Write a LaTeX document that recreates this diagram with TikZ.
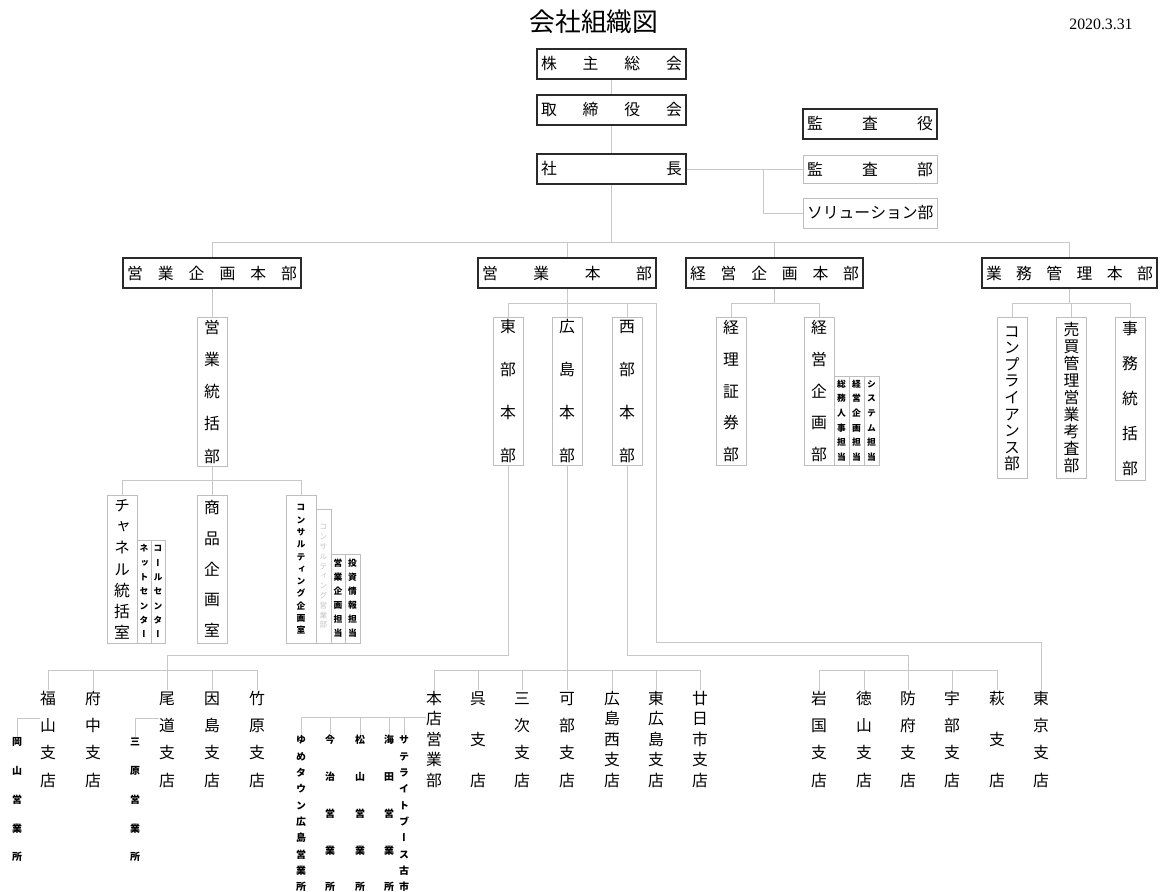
\documentclass[tikz,border=0pt]{standalone}
\usepackage{fontspec}
\setmainfont{Liberation Serif}
\newfontfamily\jp{Noto Sans CJK JP}
\newfontfamily\jpv[RawFeature=+vert]{Noto Sans CJK JP}
\newdimen\upx \upx=0.03cm
\definecolor{lc}{HTML}{C8C8C8}
\definecolor{lg}{HTML}{BEBEBE}
\definecolor{dk}{HTML}{2A2A2A}
\definecolor{faint}{HTML}{C4C4C4}
\ExplSyntaxOn
\NewDocumentCommand\vtext{m m}
 {
  \vbox
   {
    \baselineskip=#1\relax
    \lineskiplimit=-\maxdimen
    \lineskip=0pt
    \tl_map_inline:nn {#2}
     { \hbox~to~1em {\hss \vrule~height~.88em~depth~.12em~width~0pt ##1 \hss} }
   }
 }
\NewDocumentCommand\spread{m m}
 {
  \hbox~to~#1
   {
    \bool_set_false:N \l_tmpa_bool
    \tl_map_inline:nn {#2}
     { \bool_if:NT \l_tmpa_bool {\hfill} ##1 \bool_set_true:N \l_tmpa_bool }
   }
 }
\ExplSyntaxOff
\begin{document}
\begin{tikzpicture}[x=0.03cm, y=-0.03cm,
  ln/.style={draw=lc, line width=0.8pt},
  dbox/.style={draw=dk, line width=1.3pt, inner sep=0pt, font=\jp\fontsize{13.5}{13.5}\selectfont},
  gboxh/.style={draw=lg, line width=0.8pt, inner sep=0pt, font=\jp\fontsize{13.5}{13.5}\selectfont},
  gbox/.style={draw=lg, line width=0.8pt, inner sep=0pt, font=\jpv\fontsize{13.5}{13.5}\selectfont},
  sbox/.style={draw=lg, line width=0.8pt, inner sep=0pt, font=\jpv\bfseries\fontsize{7.5}{7.5}\selectfont},
  vt/.style={inner sep=0pt, font=\jpv\fontsize{13.5}{13.5}\selectfont},
  vs/.style={inner sep=0pt, font=\jpv\bfseries\fontsize{8.5}{8.5}\selectfont}]
\fill[white] (0,0) rectangle (1164,892);
\useasboundingbox (0,0) rectangle (1164,892);

% title and date
\node[font=\jp\fontsize{22}{22}\selectfont] (title) at (594,22) {会社組織図};
\node[font=\fontsize{13.5}{13.5}\selectfont] (date) at (1101,24) {2020.3.31};

% top
\node[dbox, minimum width=149\upx, minimum height=30\upx] (kabu) at (611.5,64) {\spread{141\upx}{株主総会}};
\node[dbox, minimum width=149\upx, minimum height=30\upx] (tori) at (611.5,110) {\spread{141\upx}{取締役会}};
\node[dbox, minimum width=149\upx, minimum height=30\upx] (shacho) at (611.5,169) {\spread{141\upx}{社長}};
\node[dbox, minimum width=134\upx, minimum height=30\upx] (kansayaku) at (870,124) {\spread{126\upx}{監査役}};
\node[gboxh, minimum width=134\upx, minimum height=28\upx] (kansabu) at (870,169) {\spread{126\upx}{監査部}};
\node[gboxh, minimum width=134\upx, minimum height=30\upx] (solution) at (870,213) {\spread{126\upx}{ソリューション部}};

% headquarters
\node[dbox, minimum width=178\upx, minimum height=30\upx] (eki) at (212,273) {\spread{170\upx}{営業企画本部}};
\node[dbox, minimum width=178\upx, minimum height=30\upx] (eig) at (567,273) {\spread{170\upx}{営業本部}};
\node[dbox, minimum width=177\upx, minimum height=30\upx] (kei) at (774.5,273) {\spread{169\upx}{経営企画本部}};
\node[dbox, minimum width=175\upx, minimum height=30\upx] (gyo) at (1069.5,273) {\spread{167\upx}{業務管理本部}};

% 営業企画本部
\node[gbox, minimum width=30\upx, minimum height=149\upx] (tokatsu) at (212,391.5) {\vtext{32.25\upx}{営業統括部}};
\node[gbox, minimum width=30\upx, minimum height=148\upx] (channel) at (122,569) {\vtext{21.2\upx}{チャネル統括室}};
\node[sbox, minimum width=14\upx, minimum height=103\upx] (net) at (144,591.5) {\vtext{14.3\upx}{ネットセンター}};
\node[sbox, minimum width=14\upx, minimum height=103\upx] (call) at (158,591.5) {\vtext{14.3\upx}{コールセンター}};
\node[gbox, minimum width=30\upx, minimum height=148\upx] (shohin) at (212,569) {\vtext{30.75\upx}{商品企画室}};
\node[sbox, minimum width=30\upx, minimum height=148\upx] (consul) at (301,569) {\vtext{12.3\upx}{コンサルティング企画室}};
\node[sbox, minimum width=15\upx, minimum height=134\upx, text=faint, font=\jpv\fontsize{6.5}{6.5}\selectfont] (consul2) at (323.5,576) {\vtext{9.8\upx}{コンサルティング営業部}};
\node[sbox, minimum width=14\upx, minimum height=89\upx] (eitan) at (338,598.5) {\vtext{14\upx}{営業企画担当}};
\node[sbox, minimum width=15\upx, minimum height=89\upx] (toshi) at (352.5,598.5) {\vtext{14\upx}{投資情報担当}};

% 営業本部
\node[gbox, minimum width=30\upx, minimum height=148\upx] (tobu) at (508,391) {\vtext{43\upx}{東部本部}};
\node[gbox, minimum width=30\upx, minimum height=148\upx] (hiro) at (567,391) {\vtext{43\upx}{広島本部}};
\node[gbox, minimum width=30\upx, minimum height=148\upx] (seibu) at (627,391) {\vtext{43\upx}{西部本部}};

% 経営企画本部
\node[gbox, minimum width=30\upx, minimum height=148\upx] (keiri) at (731,391) {\vtext{31.75\upx}{経理証券部}};
\node[gbox, minimum width=30\upx, minimum height=148\upx] (kikaku) at (819,391) {\vtext{31.75\upx}{経営企画部}};
\node[sbox, minimum width=15\upx, minimum height=89\upx] (somu) at (841.5,420.5) {\vtext{14.6\upx}{総務人事担当}};
\node[sbox, minimum width=15\upx, minimum height=89\upx] (keitan) at (856.5,420.5) {\vtext{14.6\upx}{経営企画担当}};
\node[sbox, minimum width=15\upx, minimum height=89\upx] (sys) at (871.5,420.5) {\vtext{14.6\upx}{システム担当}};

% 業務管理本部
\node[gbox, minimum width=30\upx, minimum height=161\upx] (comp) at (1012,397.5) {\vtext{16.6\upx}{コンプライアンス部}};
\node[gbox, minimum width=30\upx, minimum height=161\upx] (baibai) at (1071.5,397.5) {\vtext{16.9\upx}{売買管理営業考査部}};
\node[gbox, minimum width=30\upx, minimum height=163\upx] (jimu) at (1130,398.5) {\vtext{35\upx}{事務統括部}};

% 東部 branches
\node[vt] (fukuyama) at (48,739) {\vtext{27.33\upx}{福山支店}};
\node[vt] (fuchu) at (93,739) {\vtext{27.33\upx}{府中支店}};
\node[vt] (onomichi) at (167,739) {\vtext{27.33\upx}{尾道支店}};
\node[vt] (innoshima) at (212,739) {\vtext{27.33\upx}{因島支店}};
\node[vt] (takehara) at (257,739) {\vtext{27.33\upx}{竹原支店}};
\node[vs] (okayama) at (17,799.5) {\vtext{28.75\upx}{岡山営業所}};
\node[vs] (mihara) at (135,799.5) {\vtext{28.75\upx}{三原営業所}};

% 広島 branches
\node[vt] (honten) at (434,739) {\vtext{20.5\upx}{本店営業部}};
\node[vt] (kure) at (478,739) {\vtext{41\upx}{呉支店}};
\node[vt] (miyoshi) at (522,739) {\vtext{27.33\upx}{三次支店}};
\node[vt] (kabe) at (567,739) {\vtext{27.33\upx}{可部支店}};
\node[vt] (hironishi) at (612,739) {\vtext{20.5\upx}{広島西支店}};
\node[vt] (higashihiro) at (656,739) {\vtext{20.5\upx}{東広島支店}};
\node[vt] (hatsuka) at (700,739) {\vtext{20.5\upx}{廿日市支店}};
\node[vs] (yume) at (301,813.5) {\vtext{16.33\upx}{ゆめタウン広島営業所}};
\node[vs] (imabari) at (330,813.5) {\vtext{36.75\upx}{今治営業所}};
\node[vs] (matsuyama) at (360,813.5) {\vtext{36.75\upx}{松山営業所}};
\node[vs] (kaita) at (389,813.5) {\vtext{36.75\upx}{海田営業所}};
\node[vs] (sat) at (404,813.5) {\vtext{16.33\upx}{サテライトブース古市}};

% 西部 branches
\node[vt] (iwakuni) at (819,739) {\vtext{27.33\upx}{岩国支店}};
\node[vt] (tokuyama) at (864,739) {\vtext{27.33\upx}{徳山支店}};
\node[vt] (hofu) at (908,739) {\vtext{27.33\upx}{防府支店}};
\node[vt] (ube) at (952,739) {\vtext{27.33\upx}{宇部支店}};
\node[vt] (hagi) at (997,739) {\vtext{41\upx}{萩支店}};
\node[vt] (tokyo) at (1041,739) {\vtext{27.33\upx}{東京支店}};

% ---------- connectors ----------
\draw[ln] (kabu) -- (tori);
\draw[ln] (tori) -- (shacho);
\draw[ln] (shacho) -- (kansabu);
\coordinate (kj) at (763,169);
\draw[ln] (kj) |- (solution.west);

\coordinate (bar) at (611.5,242);
\draw[ln] (shacho.south) -- (bar);
\draw[ln] (eki.north |- bar) -- (gyo.north |- bar);
\foreach \n in {eki,eig,kei,gyo} \draw[ln] (\n.north |- bar) -- (\n.north);

% 営業企画本部
\draw[ln] (eki) -- (tokatsu);
\coordinate (rA) at (212,480);
\draw[ln] (tokatsu.south) -- (rA);
\draw[ln] (channel.north |- rA) -- (consul.north |- rA);
\foreach \n in {channel,shohin,consul} \draw[ln] (\n.north |- rA) -- (\n.north);

% 営業本部
\coordinate (rB) at (567,303);
\coordinate (eR) at (656,303);
\draw[ln] (eig.south) -- (rB);
\draw[ln] (tobu.north |- rB) -- (eR);
\foreach \n in {tobu,hiro,seibu} \draw[ln] (\n.north |- rB) -- (\n.north);
\coordinate (tT) at (1041,642);
\draw[ln] (eR) |- (tT) -- (tokyo.north);

% 経営企画本部
\coordinate (rK) at (774.5,303);
\draw[ln] (kei.south) -- (rK);
\draw[ln] (keiri.north |- rK) -- (kikaku.north |- rK);
\foreach \n in {keiri,kikaku} \draw[ln] (\n.north |- rK) -- (\n.north);

% 業務管理本部
\coordinate (rG) at (1069.5,303);
\draw[ln] (gyo.south) -- (rG);
\draw[ln] (comp.north |- rG) -- (jimu.north |- rG);
\foreach \n in {comp,baibai,jimu} \draw[ln] (\n.north |- rG) -- (\n.north);

% 東部
\coordinate (tE) at (167,655);
\coordinate (rE) at (167,670);
\draw[ln] (tobu.south) |- (tE) -- (rE);
\draw[ln] (fukuyama.north |- rE) -- (takehara.north |- rE);
\foreach \n in {fukuyama,fuchu,onomichi,innoshima,takehara} \draw[ln] (\n.north |- rE) -- (\n.north);
\coordinate (yB) at (0,718);
\draw[ln] (fukuyama.west |- yB) -| (okayama.north);
\draw[ln] (onomichi.west |- yB) -| (mihara.north);

% 広島
\coordinate (rH) at (567,670);
\draw[ln] (hiro.south) -- (rH);
\draw[ln] (honten.north |- rH) -- (hatsuka.north |- rH);
\foreach \n in {honten,kure,miyoshi,kabe,hironishi,higashihiro,hatsuka} \draw[ln] (\n.north |- rH) -- (\n.north);
\coordinate (rS) at (0,717);
\draw[ln] (honten.west |- rS) -- (yume.north |- rS);
\foreach \n in {yume,imabari,matsuyama,kaita,sat} \draw[ln] (\n.north |- rS) -- (\n.north);

% 西部
\coordinate (tW) at (908,655);
\coordinate (rW) at (908,670);
\draw[ln] (seibu.south) |- (tW) -- (rW);
\draw[ln] (iwakuni.north |- rW) -- (hagi.north |- rW);
\foreach \n in {iwakuni,tokuyama,hofu,ube,hagi} \draw[ln] (\n.north |- rW) -- (\n.north);
\end{tikzpicture}
\end{document}
